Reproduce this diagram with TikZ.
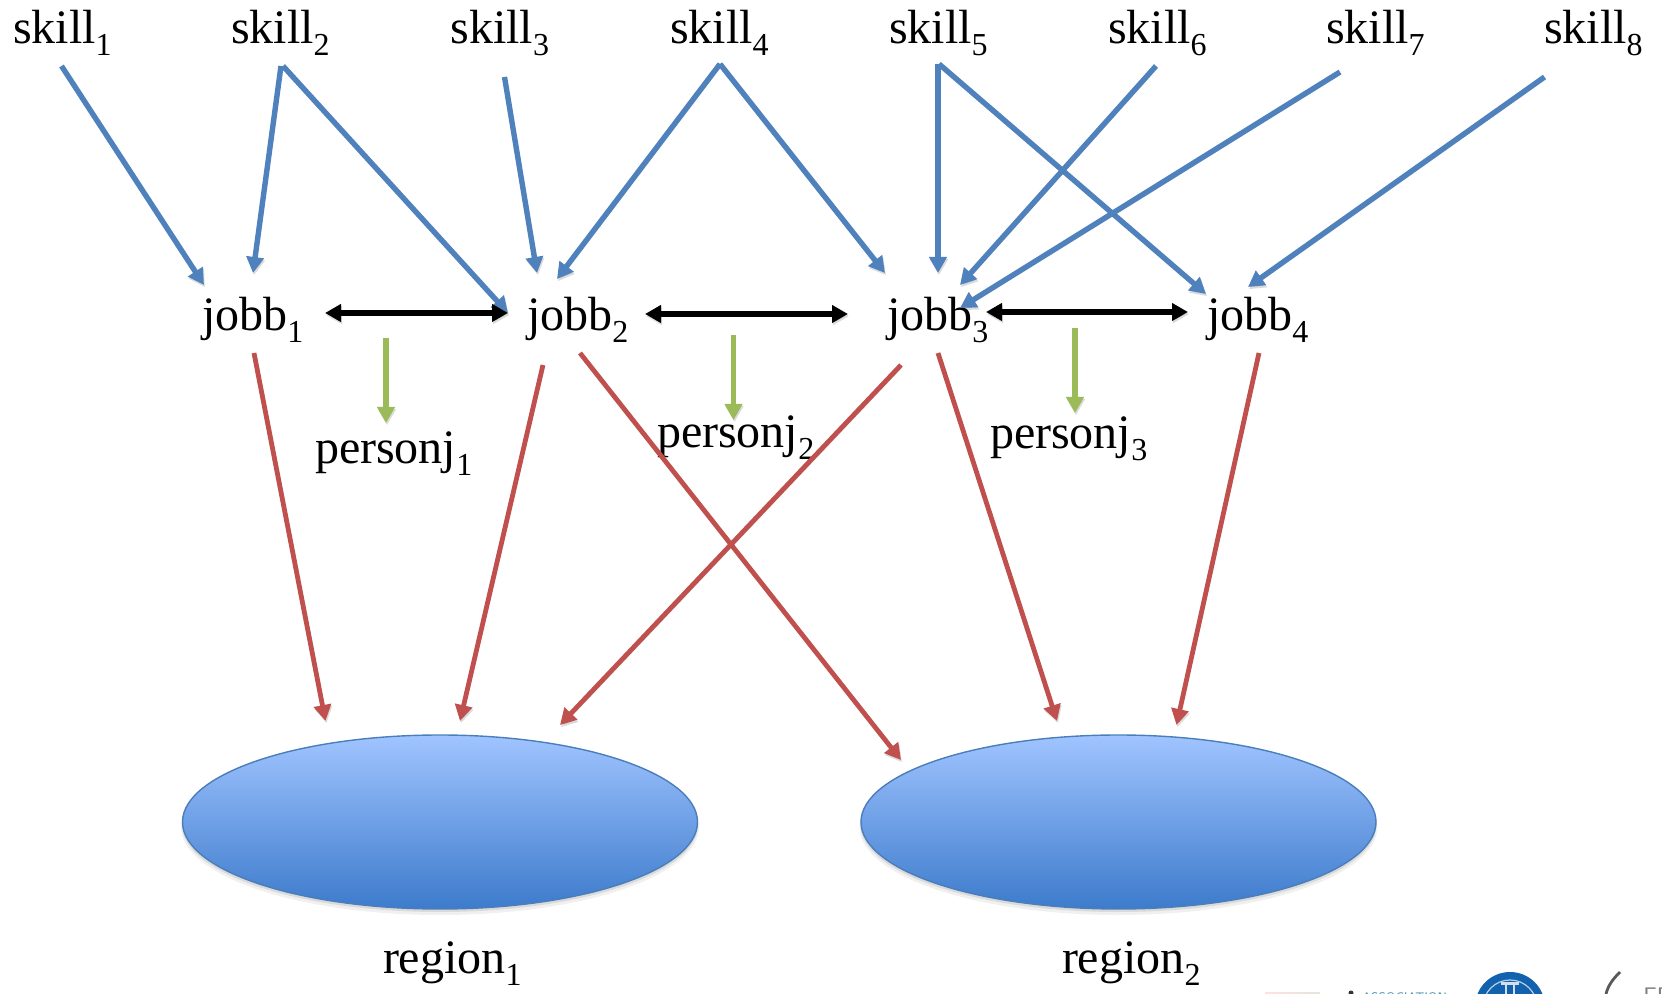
\documentclass[tikz,border=0pt]{standalone}
\usepackage{fontspec}
\setmainfont{Liberation Serif}
\usetikzlibrary{arrows.meta,shapes.geometric}
\definecolor{skillblue}{HTML}{4F81BD}
\definecolor{jobred}{HTML}{C0504D}
\definecolor{persongreen}{HTML}{9BBB59}
\definecolor{blobedge}{HTML}{4A7EBB}
\definecolor{blobtop}{HTML}{A0C4FF}
\definecolor{blobbottom}{HTML}{3D7BCC}
\definecolor{sealblue}{HTML}{1262AE}
\definecolor{assocteal}{HTML}{4A8FB0}
\newcommand{\lab}[2]{\raisebox{.6pt}{#1\raisebox{-6pt}{\fontsize{16}{16}\selectfont #2}}}
\tikzset{
  lbl/.style={anchor=base west,inner sep=0pt,outer sep=0pt,font=\fontsize{24}{24}\selectfont},
  softshadow/.style={preaction={draw=black,opacity=.14,transform canvas={xshift=.5pt,yshift=-1.1pt}}},
  skillarrow/.style={draw=skillblue,line width=2.7pt,softshadow,-{Triangle[length=8pt,width=8.5pt]}},
  jobarrow/.style={draw=jobred,line width=2.4pt,softshadow,-{Triangle[length=8pt,width=8.5pt]}},
  personarrow/.style={draw=persongreen,line width=2.6pt,softshadow,-{Triangle[length=8pt,width=8.5pt]}},
  linkarrow/.style={draw=black,line width=2.7pt,softshadow,{Triangle[length=8pt,width=8.5pt]}-{Triangle[length=8pt,width=8.5pt]}},
  blob/.style={ellipse,inner sep=0pt,outer sep=0pt,minimum width=257.5pt,minimum height=87pt,draw=blobedge,line width=.7pt,top color=blobtop,bottom color=blobbottom,shading angle=0},
}
\begin{document}
\begin{tikzpicture}[x=0.5pt,y=-0.5pt]
\useasboundingbox (0,0) rectangle (1662,994);
\clip (0,0) rectangle (1662,994);
\fill[white] (0,0) rectangle (1662,994);

% partly visible logos along the lower edge
\shade[left color=red!12,right color=yellow!20!gray!25] (1265,992) rectangle (1320,994);
\node[anchor=base west,inner sep=0pt,text=assocteal,font=\fontsize{6.2}{6.2}\selectfont\sffamily] (assoc) at (1362,1001) {ASSOCIATION};
\fill[black!80] (1351,993) circle (2.5);
\fill[sealblue] (1510,1007) circle (35);
\draw[white!70!sealblue,line width=.6pt] (1510,1007) circle (27);
\fill[white!80!sealblue] (1501,982) rectangle (1519,985);
\fill[white!80!sealblue] (1505,985) rectangle (1507,994);
\fill[white!80!sealblue] (1513,985) rectangle (1515,994);
\draw[black!65,line width=1.4pt] (1620,972) .. controls (1612,980) and (1608,986) .. (1606,994);
\node[anchor=base west,inner sep=0pt,text=black!50,font=\fontsize{12}{12}\selectfont\sffamily] (fe) at (1643,1004) {FE};

\node[lbl] (skill1) at (13,45) {\lab{skill}{1}};
\node[lbl] (skill2) at (231,45) {\lab{skill}{2}};
\node[lbl] (skill3) at (450.5,45) {\lab{skill}{3}};
\node[lbl] (skill4) at (670,45) {\lab{skill}{4}};
\node[lbl] (skill5) at (889,45) {\lab{skill}{5}};
\node[lbl] (skill6) at (1108,45) {\lab{skill}{6}};
\node[lbl] (skill7) at (1326,45) {\lab{skill}{7}};
\node[lbl] (skill8) at (1544,45) {\lab{skill}{8}};

\node[lbl] (jobb1) at (202,332) {\lab{jobb}{1}};
\node[lbl] (jobb2) at (527,332) {\lab{jobb}{2}};
\node[lbl] (jobb3) at (887,332) {\lab{jobb}{3}};
\node[lbl] (jobb4) at (1207,332) {\lab{jobb}{4}};

\node[lbl] (person1) at (315,465) {\lab{personj}{1}};
\node[lbl] (person2) at (657,448.5) {\lab{personj}{2}};
\node[lbl] (person3) at (990,450) {\lab{personj}{3}};

\foreach \c in {440,1118.5}{
  \fill[black,opacity=.06] (\c,827) ellipse (259 and 88);
  \fill[black,opacity=.09] (\c,825) ellipse (258 and 87);
}
\node[blob] (blob1) at (440,822) {};
\node[blob] (blob2) at (1118.5,822) {};
\node[lbl] (region1) at (383,975) {\lab{region}{1}};
\node[lbl] (region2) at (1062,975) {\lab{region}{2}};

\coordinate (link1) at (386,338);
\coordinate (link2) at (733.5,335);
\coordinate (link3) at (1075,328);

\draw[skillarrow] ([shift={(48.5,21)}]skill1.base west) -- ([shift={(2,-47)}]jobb1.base west);
\draw[skillarrow] ([shift={(50,21)}]skill2.base west) -- ([shift={(51,-59)}]jobb1.base west);
\draw[skillarrow] ([shift={(52,21)}]skill2.base west) -- ([shift={(-19,-19)}]jobb2.base west);
\draw[skillarrow] ([shift={(54,32)}]skill3.base west) -- ([shift={(10,-59)}]jobb2.base west);
\draw[skillarrow] ([shift={(50,19)}]skill4.base west) -- ([shift={(30,-53)}]jobb2.base west);
\draw[skillarrow] ([shift={(50,19)}]skill4.base west) -- ([shift={(-2,-59)}]jobb3.base west);
\draw[skillarrow] ([shift={(49,19)}]skill5.base west) -- ([shift={(51,-59)}]jobb3.base west);
\draw[skillarrow] ([shift={(50,19)}]skill5.base west) -- ([shift={(-1,-38)}]jobb4.base west);
\draw[skillarrow] ([shift={(48,21)}]skill6.base west) -- ([shift={(73,-47)}]jobb3.base west);
\draw[skillarrow] ([shift={(14,27)}]skill7.base west) -- ([shift={(73,-24)}]jobb3.base west);
\draw[skillarrow] ([shift={(0.5,32)}]skill8.base west) -- ([shift={(41,-45)}]jobb4.base west);

\draw[linkarrow] ([shift={(123,-19)}]jobb1.base west) -- ([shift={(-19,-19)}]jobb2.base west);
\draw[linkarrow] ([shift={(118,-18)}]jobb2.base west) -- ([shift={(-39,-18)}]jobb3.base west);
\draw[linkarrow] ([shift={(99,-20)}]jobb3.base west) -- ([shift={(-19,-20)}]jobb4.base west);

\draw[personarrow] (link1) -- ([shift={(71,-42)}]person1.base west);
\draw[personarrow] (link2) -- ([shift={(76.5,-28.5)}]person2.base west);
\draw[personarrow] (link3) -- ([shift={(85,-37)}]person3.base west);

\draw[jobarrow] ([shift={(52,21)}]jobb1.base west) -- ([shift={(-114.5,-101)}]blob1.center);
\draw[jobarrow] ([shift={(16,33)}]jobb2.base west) -- ([shift={(20,-101)}]blob1.center);
\draw[jobarrow] ([shift={(53,21)}]jobb2.base west) -- ([shift={(-217.5,-62)}]blob2.center);
\draw[jobarrow] ([shift={(14,33)}]jobb3.base west) -- ([shift={(120,-97)}]blob1.center);
\draw[jobarrow] ([shift={(51,21)}]jobb3.base west) -- ([shift={(-61.5,-101)}]blob2.center);
\draw[jobarrow] ([shift={(52,21)}]jobb4.base west) -- ([shift={(58,-97)}]blob2.center);
\end{tikzpicture}
\end{document}
